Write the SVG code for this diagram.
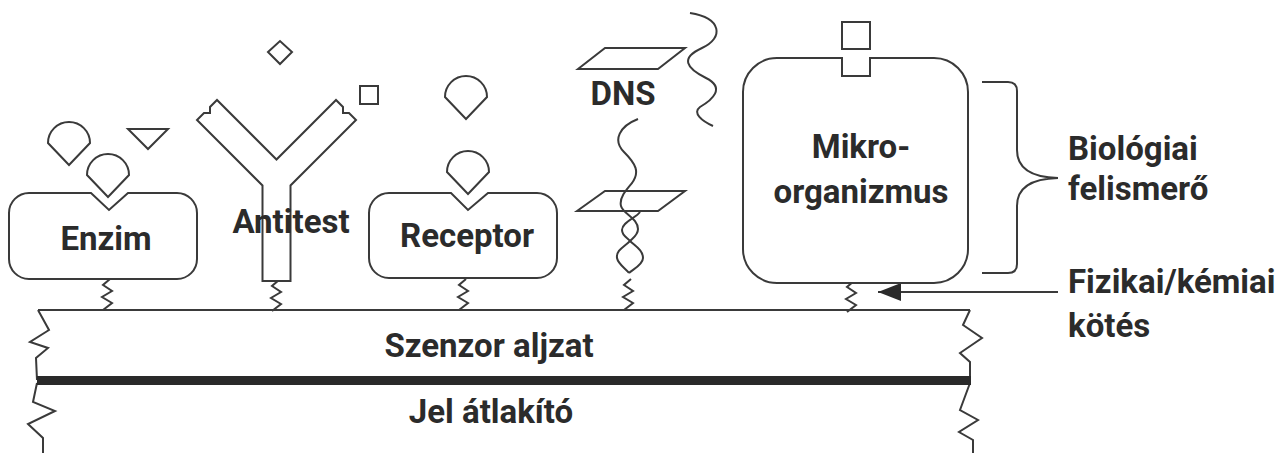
<svg xmlns="http://www.w3.org/2000/svg" width="1288" height="453" viewBox="0 0 1288 453">
  <style>
    .ln { fill: none; stroke: #3a3a3a; stroke-width: 2; stroke-linejoin: miter; }
    .shape { fill: #ffffff; stroke: #3a3a3a; stroke-width: 2; }
    .lbl { font-family: Roboto, "Liberation Sans", sans-serif; font-weight: 700; font-size: 33px; fill: #2b2b2b; }
    .mid { text-anchor: middle; }
  </style>
  <defs>
    <!-- small zigzag spring used for every surface attachment -->
    <path id="spring" d="M3,0 L-4,6 L5,12 L-5,18 L5,24 L-4,31" fill="none" stroke="#3a3a3a" stroke-width="2"/>
    <!-- drop-shaped ligand: half circle on top, pointed bottom -->
    <path id="drop" d="M-21,0 A21,21 0 0 1 21,0 L0,22 Z" fill="#ffffff" stroke="#3a3a3a" stroke-width="2"/>
    <marker id="arrowhead" viewBox="0 0 23 18" refX="23" refY="9" markerWidth="23" markerHeight="18" markerUnits="userSpaceOnUse" orient="auto">
      <path d="M23,9 L0,0 L0,18 Z" fill="#2b2b2b"/>
    </marker>
  </defs>

  <!-- sensor substrate and transducer -->
  <g id="substrate">
    <path class="ln" d="M38,310 L970,310"/>
    <path class="ln" d="M38,310 L49,330 L30,342 L48,348 L36,358 L37,380"/>
    <path class="ln" d="M37,383 L33,402 L55,411 L28,424 L43,438 L43,453"/>
    <path class="ln" d="M970,310 L963,325 L982,338 L960,353 L970,362 L970,380"/>
    <path class="ln" d="M970,383 L960,410 L978,420 L959,432 L973,440 L973,453"/>
    <line x1="37" y1="380.5" x2="971" y2="380.5" stroke="#2a2a2a" stroke-width="9"/>
    <text class="lbl mid" x="489" y="357">Szenzor aljzat</text>
    <text class="lbl mid" x="491" y="423">Jel átlakító</text>
  </g>

  <!-- surface bonds -->
  <g id="connectors">
    <use href="#spring" x="107" y="279"/>
    <use href="#spring" x="276" y="280"/>
    <use href="#spring" x="463" y="279"/>
    <use href="#spring" x="628" y="279"/>
    <use href="#spring" x="851" y="281"/>
    <line class="ln" x1="1058" y1="292" x2="878" y2="292" marker-end="url(#arrowhead)"/>
  </g>

  <g id="enzim">
    <path class="shape" d="M29,193 H91 L109,210 L128,193 H177 A20,20 0 0 1 197,213 V259 A20,20 0 0 1 177,279 H29 A20,20 0 0 1 9,259 V213 A20,20 0 0 1 29,193 Z"/>
    <use href="#drop" x="69" y="143"/>
    <use href="#drop" x="108" y="175"/>
    <path class="shape" d="M128,129 L168,129 L148,149 Z"/>
    <text class="lbl mid" x="106" y="250">Enzim</text>
  </g>

  <g id="antitest">
    <path class="shape" d="M262.5,281 L262.5,185.5 L197,120 L204,113 L210,113 L210,107 L217,100 L276.5,159.5 L336,100 L343,107 L343,113 L349,113 L356,120 L290.5,185.5 L290.5,281 Z"/>
    <path class="shape" d="M268,52 L280,41 L292,52 L280,64 Z"/>
    <rect class="shape" x="360" y="86" width="18" height="18"/>
    <text class="lbl mid" x="291" y="233">Antitest</text>
  </g>

  <g id="receptor">
    <path class="shape" d="M389,193 H451 L468,210 L488,193 H537 A20,20 0 0 1 557,213 V258 A20,20 0 0 1 537,278 H389 A20,20 0 0 1 369,258 V213 A20,20 0 0 1 389,193 Z"/>
    <use href="#drop" x="466" y="97"/>
    <use href="#drop" x="468" y="172"/>
    <text class="lbl mid" x="467" y="247">Receptor</text>
  </g>

  <g id="dns">
    <path class="ln" d="M578,69 L605,48 L685,48 L658,69 Z"/>
    <path class="ln" d="M690,13 C722,18 724,38 702,48 C680,58 686,68 706,78 C726,88 712,100 700,107 C692,113 702,121 713,126"/>
    <path class="ln" d="M577,211 L605,191 L685,191 L658,211 Z"/>
    <path class="ln" d="M638,119 C620,126 612,140 624,152 C636,164 640,172 632,183 C626,190 619,198 621,206 C623,214 638,218 638,229 C638,235 633,238 630,241 C624,247 616,250 617,258 C618,264 626,269 629,273"/>
    <path class="ln" d="M640,212 C636,218 622,222 622,230 C622,236 628,238 630,241 C635,246 643,250 643,258 C643,265 632,270 629,273"/>
    <text class="lbl mid" x="623" y="105">DNS</text>
  </g>

  <g id="mikroorganizmus">
    <path class="shape" d="M777,58 H842 V76 H870 V58 H934 A34,34 0 0 1 968,92 V249 A34,34 0 0 1 934,283 H777 A34,34 0 0 1 743,249 V92 A34,34 0 0 1 777,58 Z"/>
    <rect class="shape" x="842" y="22" width="28" height="27"/>
    <text class="lbl mid" x="861" y="158">Mikro-</text>
    <text class="lbl mid" x="861" y="203">organizmus</text>
  </g>

  <g id="biologiai-felismero">
    <path class="ln" d="M982,82 H1008 Q1017,82 1017,91 V150 Q1017,177 1058,178 Q1017,179 1017,206 V264 Q1017,273 1008,273 H982"/>
    <text class="lbl" x="1068" y="160">Biológiai</text>
    <text class="lbl" x="1068" y="200">felismerő</text>
  </g>

  <g id="kotes">
    <text class="lbl" x="1068" y="293">Fizikai/kémiai</text>
    <text class="lbl" x="1068" y="337">kötés</text>
  </g>
</svg>
